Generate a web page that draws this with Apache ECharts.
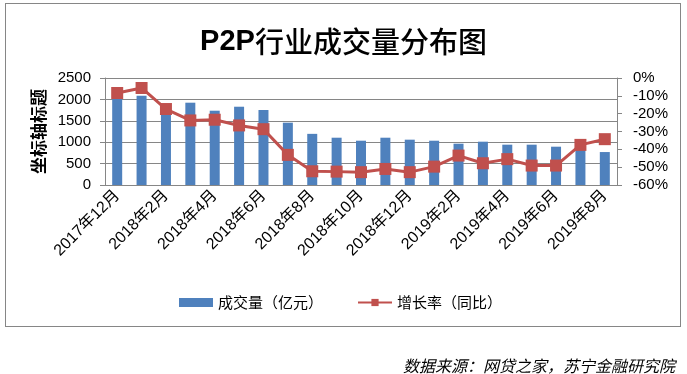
<!DOCTYPE html>
<html>
<head>
<meta charset="utf-8">
<script src="https://cdn.jsdelivr.net/npm/echarts@6/dist/echarts.min.js"></script>
<style>
html,body{margin:0;padding:0;background:#fff;}
#frame{position:absolute;left:5px;top:3px;width:676px;height:324px;border:1.5px solid #868686;box-sizing:border-box;}
#c{position:absolute;left:0;top:0;width:687px;height:374px;}
</style>
</head>
<body>
<div id="frame"></div>
<div id="c"></div>
<script>
var categories = ['2017年12月','2018年1月','2018年2月','2018年3月','2018年4月','2018年5月','2018年6月','2018年7月','2018年8月','2018年9月','2018年10月','2018年11月','2018年12月','2019年1月','2019年2月','2019年3月','2019年4月','2019年5月','2019年6月','2019年7月','2019年8月'];
var volume = [2040, 2085, 1780, 1923, 1736, 1829, 1752, 1456, 1195, 1105, 1035, 1105, 1059, 1035, 965, 1012, 942, 942, 895, 870, 770];
var growth = [-8.4, -5.6, -17.4, -23.8, -23.4, -26.6, -28.7, -43.1, -52.3, -52.5, -52.8, -51.0, -52.8, -49.7, -43.5, -47.8, -45.5, -49.1, -49.1, -37.5, -34.3];
var leftTicks = [0, 2500, 500];
var rightTicks = [-60, 0, 10];

var numFont = '"Liberation Sans","Noto Sans CJK SC",sans-serif';
var cjkFont = '"Noto Sans CJK SC",sans-serif';
var chart = echarts.init(document.getElementById('c'), null, {renderer:'canvas'});
chart.setOption({
  animation:false,
  backgroundColor:'transparent',
  title:[{
    text:'{a|P2P}{b|行业成交量分布图}', left:'center', top:22,
    textStyle:{
      fontSize:29, color:'#000',
      rich:{
        a:{fontSize:29, fontWeight:'bold', color:'#000', fontFamily:'"Liberation Sans",sans-serif'},
        b:{fontSize:29, fontWeight:500, color:'#000', fontFamily:cjkFont}
      }
    }
  },{
    text:'数据来源：网贷之家，苏宁金融研究院', right:7, top:353,
    textStyle:{fontSize:16, fontStyle:'italic', fontWeight:'normal', color:'#000', fontFamily:cjkFont}
  }],
  legend:{
    top:290, left:174, itemGap:34, itemWidth:34, itemHeight:9,
    textStyle:{fontSize:15, color:'#000', fontFamily:cjkFont},
    data:[{name:'成交量（亿元）', icon:'rect'},{name:'增长率（同比）'}]
  },
  grid:{left:105, right:70, top:78, bottom:189},
  xAxis:{
    type:'category', data:categories,
    axisLine:{lineStyle:{color:'#868686', width:1}},
    axisTick:{show:false},
    axisLabel:{interval:1, rotate:45, fontSize:16, color:'#000', margin:8, fontFamily:numFont}
  },
  yAxis:[{
    type:'value', min:leftTicks[0], max:leftTicks[1], interval:leftTicks[2],
    name:'坐标轴标题', nameLocation:'middle', nameGap:56, nameRotate:90,
    nameTextStyle:{fontSize:17, fontWeight:'bold', color:'#000', fontFamily:cjkFont},
    axisLine:{show:true, lineStyle:{color:'#868686'}},
    axisTick:{show:true, length:5, lineStyle:{color:'#868686'}},
    axisLabel:{fontSize:15, color:'#000', margin:14, fontFamily:numFont, formatter:function(v){return String(v);}},
    splitLine:{lineStyle:{color:'#868686', width:1}}
  },{
    type:'value', min:rightTicks[0], max:rightTicks[1], interval:rightTicks[2],
    axisLine:{show:true, lineStyle:{color:'#868686'}},
    axisTick:{show:true, length:5, lineStyle:{color:'#868686'}},
    axisLabel:{fontSize:15, color:'#000', margin:16, formatter:'{value}%', fontFamily:numFont},
    splitLine:{show:false}
  }],
  series:[{
    name:'成交量（亿元）', type:'bar', data:volume, barWidth:10,
    itemStyle:{color:'#4F81BD'}
  },{
    name:'增长率（同比）', type:'line', yAxisIndex:1, data:growth,
    symbol:'rect', symbolSize:12,
    lineStyle:{color:'#C0504D', width:3},
    itemStyle:{color:'#C0504D'}
  }]
});
</script>
</body>
</html>
